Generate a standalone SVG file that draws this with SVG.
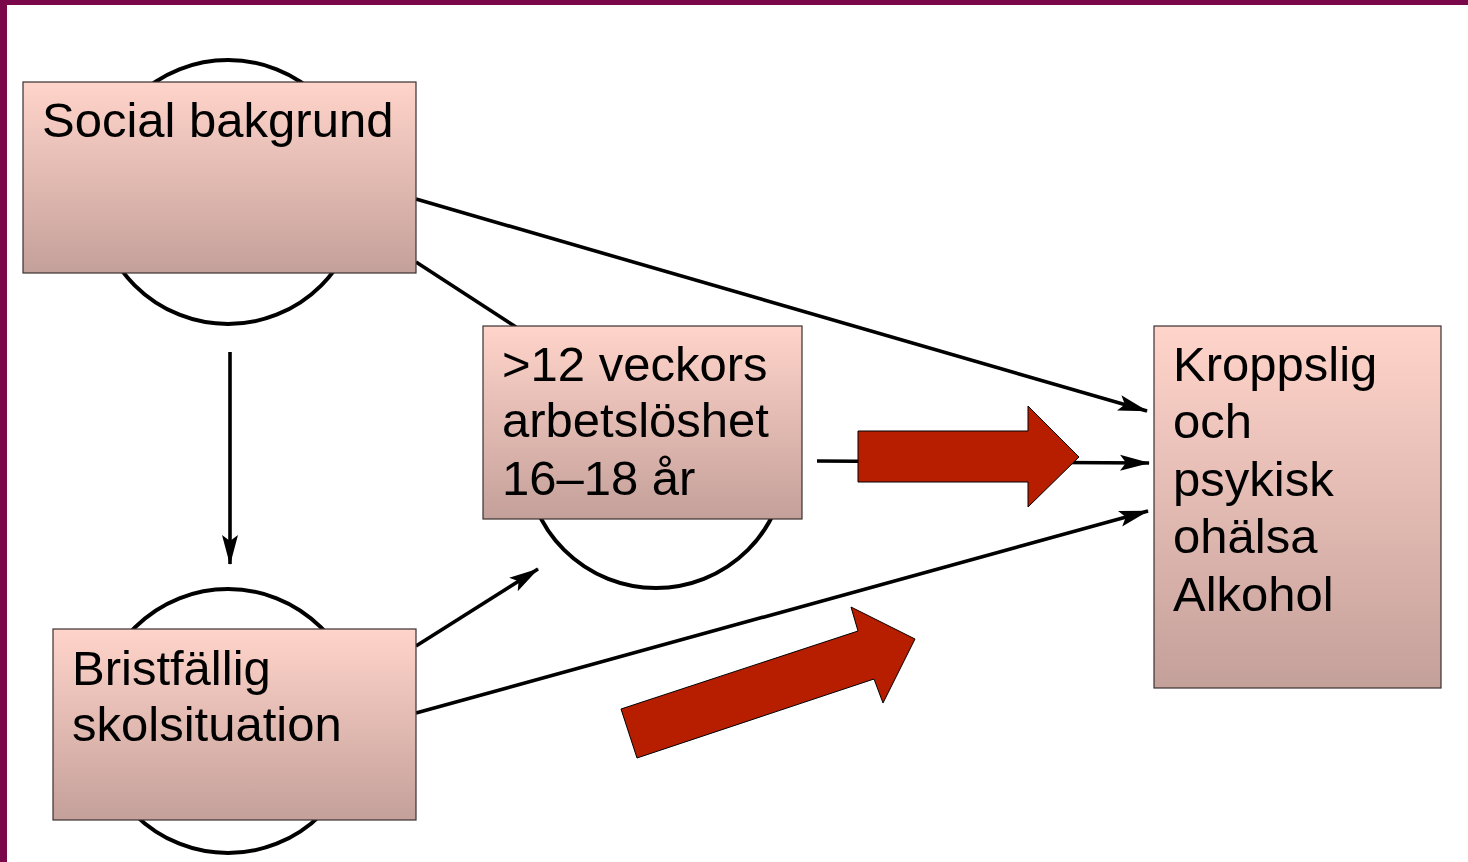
<svg xmlns="http://www.w3.org/2000/svg" width="1468" height="862" viewBox="0 0 1468 862">
  <defs>
    <linearGradient id="boxFill" x1="0" y1="0" x2="0" y2="1">
      <stop offset="0" stop-color="#FFD4CA"/>
      <stop offset="1" stop-color="#C4A09A"/>
    </linearGradient>
    <marker id="head" markerWidth="30" markerHeight="18" refX="29" refY="9" orient="auto" markerUnits="userSpaceOnUse">
      <path d="M0,1 L30,9 L0,17 L6,9 Z" fill="#000"/>
    </marker>
    <style>
      .box { fill: url(#boxFill); stroke: #3a3030; stroke-width: 1.2; }
      .ring { fill: none; stroke: #000; stroke-width: 4; }
      .link { fill: none; stroke: #000; stroke-width: 3.6; }
      .arrow { marker-end: url(#head); }
      .label { font-family: "Liberation Sans", Arial, sans-serif; font-size: 49px; fill: #000; }
      .bigArrow { fill: #B71E00; stroke: #000; stroke-width: 1; }
    </style>
  </defs>

  <rect x="0" y="0" width="1468" height="862" fill="#fff"/>
  <!-- frame bands -->
  <rect x="0" y="0" width="1468" height="5" fill="#7B074B"/>
  <rect x="0" y="0" width="7" height="862" fill="#7B074B"/>

  <!-- circles behind the boxes -->
  <g id="rings">
    <circle class="ring" cx="228" cy="192" r="132"/>
    <circle class="ring" cx="228" cy="721" r="132"/>
    <circle class="ring" cx="656" cy="458" r="130"/>
  </g>

  <!-- connectors -->
  <g id="connectors">
    <line class="link arrow" x1="416" y1="199" x2="1147" y2="411"/>
    <line class="link" x1="416" y1="262" x2="516" y2="327"/>
    <line class="link arrow" x1="230" y1="352" x2="230" y2="564"/>
    <line class="link arrow" x1="416" y1="646" x2="538" y2="569"/>
    <line class="link arrow" x1="416" y1="713" x2="1148" y2="511"/>
    <line class="link arrow" x1="817" y1="461" x2="1149" y2="463"/>
  </g>

  <g id="node-social">
    <rect class="box" x="23" y="82" width="393" height="191"/>
    <text class="label" x="42" y="137">Social bakgrund</text>
  </g>

  <g id="node-arbetsloshet">
    <rect class="box" x="483" y="326" width="319" height="193"/>
    <text class="label" x="502" y="381">&gt;12 veckors</text>
    <text class="label" x="502" y="437">arbetslöshet</text>
    <text class="label" x="502" y="495">16–18 år</text>
  </g>

  <g id="node-skola">
    <rect class="box" x="53" y="629" width="363" height="191"/>
    <text class="label" x="72" y="685">Bristfällig</text>
    <text class="label" x="72" y="741">skolsituation</text>
  </g>

  <g id="node-halsa">
    <rect class="box" x="1154" y="326" width="287" height="362"/>
    <text class="label" x="1173" y="381">Kroppslig</text>
    <text class="label" x="1173" y="438">och</text>
    <text class="label" x="1173" y="496">psykisk</text>
    <text class="label" x="1173" y="553">ohälsa</text>
    <text class="label" x="1173" y="611">Alkohol</text>
  </g>

  <!-- emphasis arrows -->
  <g id="emphasis">
    <polygon class="bigArrow" points="858,431 1028,431 1028,406 1079,457 1028,507 1028,482 858,482"/>
    <polygon class="bigArrow" points="621,709 858,631 851,607 915,639 883,703 874,679 637,758"/>
  </g>
</svg>
